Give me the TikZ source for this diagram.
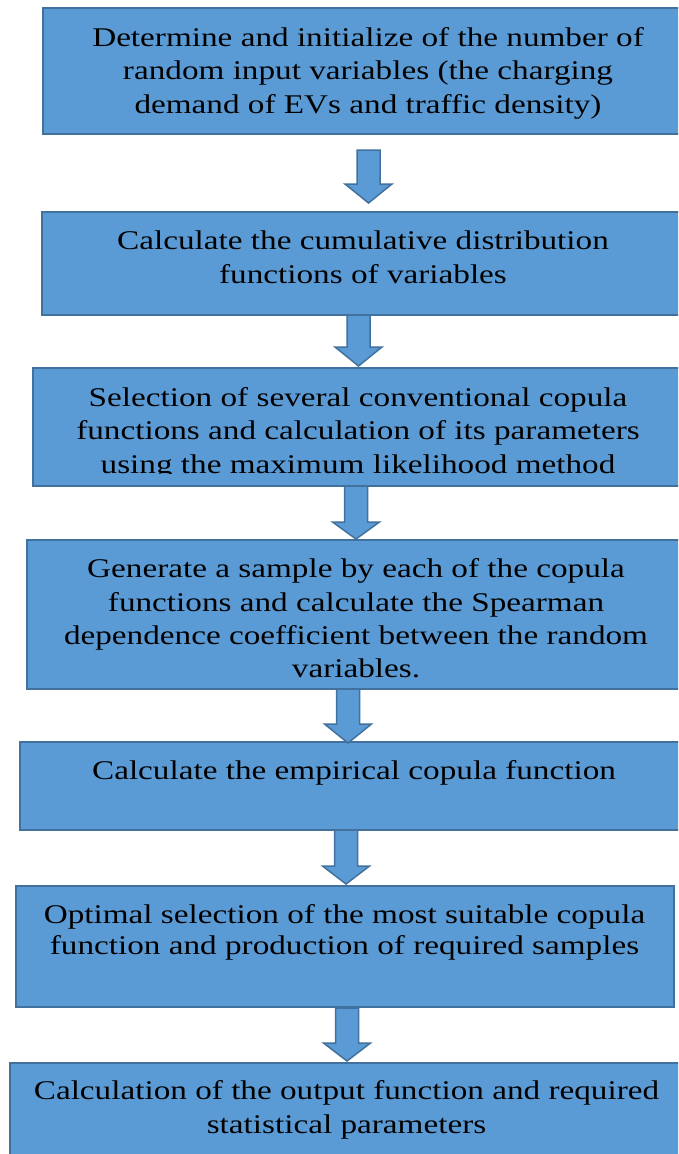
\documentclass[tikz,border=0pt]{standalone}
\usepackage{fontspec}
\setmainfont{Liberation Serif}[FakeStretch=1.23]
\usetikzlibrary{calc}
\definecolor{boxfill}{HTML}{5B9BD5}
\definecolor{boxline}{HTML}{41719C}
\tikzset{
  stepbox/.style={draw=boxline, fill=boxfill, line width=2pt, anchor=north west, inner sep=0pt, outer sep=0pt},
  ln/.style={anchor=base, inner sep=0pt, font=\fontsize{27}{33.5}\selectfont},
  blockarrow/.style={draw=boxline, fill=boxfill, line width=1.5pt, line join=miter}
}
\newcommand\blockarr[3]{%
  \draw[blockarrow] let \p1=(#1), \p2=(#2) in
    (\x1-11.5pt,\y1) -- (\x1+11.5pt,\y1) -- (\x1+11.5pt,\y2+#3) -- (\x1+23.5pt,\y2+#3)
    -- (\x1,\y2) -- (\x1-23.5pt,\y2+#3) -- (\x1-11.5pt,\y2+#3) -- cycle;}
\begin{document}
\begin{tikzpicture}[x=1pt,y=-1pt]
\useasboundingbox (0,0) rectangle (678,1154);
\clip (0,0) rectangle (678,1154);
\fill[white] (0,0) rectangle (678,1154);
% boxes
\node[stepbox, minimum width=660pt, minimum height=126pt] (b1) at (43,8) {};
\node[stepbox, minimum width=660pt, minimum height=103pt] (b2) at (42,212) {};
\node[stepbox, minimum width=670pt, minimum height=118pt] (b3) at (33,368) {};
\node[stepbox, minimum width=670pt, minimum height=149pt] (b4) at (27,540) {};
\node[stepbox, minimum width=680pt, minimum height=88pt] (b5) at (20,742) {};
\node[stepbox, minimum width=658pt, minimum height=121pt] (b6) at (16,886) {};
\node[stepbox, minimum width=690pt, minimum height=120pt] (b7) at (9.5,1063) {};
% texts
\node[ln] (t1a) at (368,46) {Determine and initialize of the number of};
\node[ln] (t1b) at (368,79.5) {random input variables (the charging};
\node[ln] (t1c) at (368,113) {demand of EVs and traffic density)};
\node[ln] (t2a) at (363,249) {Calculate the cumulative distribution};
\node[ln] (t2b) at (363,283) {functions of variables};
\node[ln] (t3a) at (358,406) {Selection of several conventional copula};
\node[ln] (t3b) at (358,439.5) {functions and calculation of its parameters};
\begin{scope}
\clip (0,0) rectangle (678,473.5);
\node[ln] (t3c) at (358,473) {using the maximum likelihood method};
\end{scope}
\node[ln] (t4a) at (356,577) {Generate a sample by each of the copula};
\node[ln] (t4b) at (356,611) {functions and calculate the Spearman};
\node[ln] (t4c) at (356,644) {dependence coefficient between the random};
\node[ln] (t4d) at (356,677) {variables.};
\node[ln] (t5a) at (354,779) {Calculate the empirical copula function};
\node[ln] (t6a) at (344.5,923) {Optimal selection of the most suitable copula};
\node[ln] (t6b) at (344.5,954) {function and production of required samples};
\node[ln] (t7a) at (346.5,1099) {Calculation of the output function and required};
\node[ln] (t7b) at (346.5,1133) {statistical parameters};
% arrows
\coordinate (a1s) at (368.5,150);  \coordinate (a1e) at (368.5,203);
\coordinate (a2s) at (358.5,315);  \coordinate (a2e) at (358.5,366);
\coordinate (a3s) at (356,486);    \coordinate (a3e) at (356,539);
\coordinate (a4s) at (348,689);    \coordinate (a4e) at (348,743);
\coordinate (a5s) at (346,830);    \coordinate (a5e) at (346,884);
\coordinate (a6s) at (347,1008);   \coordinate (a6e) at (347,1061);
\blockarr{a1s}{a1e}{19pt}
\blockarr{a2s}{a2e}{19pt}
\blockarr{a3s}{a3e}{17pt}
\blockarr{a4s}{a4e}{19pt}
\blockarr{a5s}{a5e}{18pt}
\blockarr{a6s}{a6e}{18pt}
\end{tikzpicture}
\end{document}
